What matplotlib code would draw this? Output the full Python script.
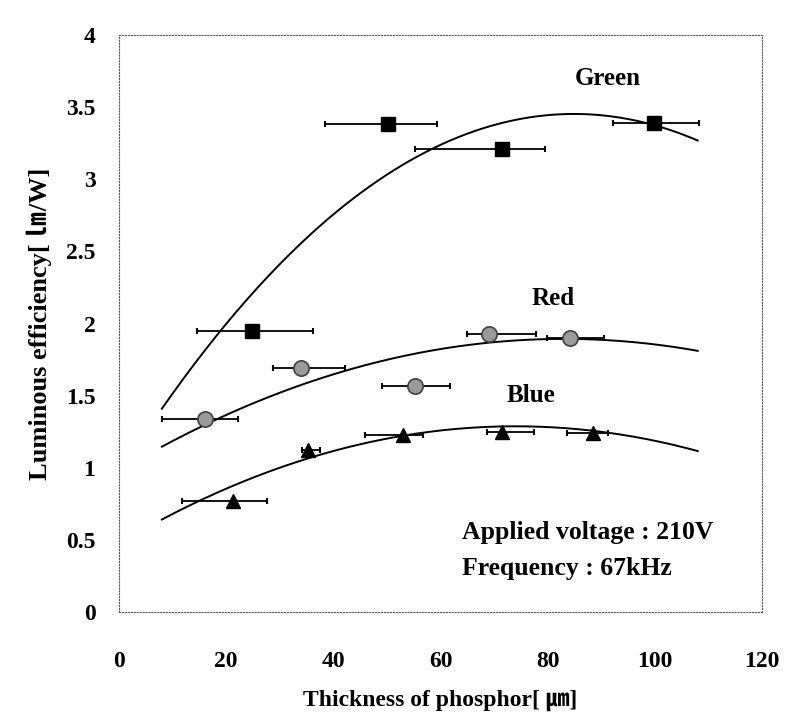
import numpy as np
import matplotlib.pyplot as plt

# thickness [um], efficiency [lm/W], error bar extents (left, right) in um
green_x = [24.8, 50.2, 71.4, 99.9]
green_y = [1.95, 3.38, 3.21, 3.39]
green_lo = [14.6, 38.5, 55.3, 92.1]
green_hi = [36.2, 59.4, 79.5, 108.3]

red_x = [16.1, 34.0, 55.2, 69.0, 84.1]
red_y = [1.34, 1.69, 1.57, 1.93, 1.90]
red_lo = [8.0, 28.8, 49.1, 65.0, 79.9]
red_hi = [22.3, 42.2, 61.7, 77.8, 90.5]

blue_x = [21.2, 35.3, 53.0, 71.4, 88.4]
blue_y = [0.77, 1.12, 1.23, 1.25, 1.24]
blue_lo = [11.7, 34.1, 46.0, 68.7, 83.7]
blue_hi = [27.6, 37.6, 56.8, 77.4, 91.2]

# 2nd order trend lines as drawn in the figure (c2, c1, c0)
green_fit = [-3.455e-4, 0.05867, 0.962]
red_fit = [-1.328e-4, 0.02205, 0.978]
blue_fit = [-1.484e-4, 0.02196, 0.475]
fit_range = (8, 108)

plt.rcParams['font.family'] = ['Liberation Serif', 'Noto Sans CJK JP']
plt.rcParams['font.weight'] = 'bold'
plt.rcParams['axes.labelweight'] = 'bold'

fig = plt.figure(figsize=(7.85, 7.17), dpi=100)
ax = fig.add_axes([119/785, 1-612/717, 643/785, 577/717])

series = [
    (green_x, green_y, green_lo, green_hi, green_fit,
     dict(marker='s', ms=10, mfc='black', mec='black')),
    (red_x, red_y, red_lo, red_hi, red_fit,
     dict(marker='o', ms=11, mfc='#9a9a9a', mec='#404040', mew=1.2)),
    (blue_x, blue_y, blue_lo, blue_hi, blue_fit,
     dict(marker='^', ms=10, mfc='black', mec='black')),
]
xs = np.linspace(fit_range[0], fit_range[1], 200)
for x, y, lo, hi, fit, mk in series:
    x = np.array(x); y = np.array(y)
    xerr = [x - np.array(lo), np.array(hi) - x]
    ax.errorbar(x, y, xerr=xerr, fmt='none', ecolor='black', elinewidth=1.3,
                capsize=2, capthick=1.5, zorder=2)
    ax.plot(x, y, ls='none', zorder=3, **mk)
    ax.plot(xs, np.polyval(fit, xs), color='black', lw=1.4, zorder=2)

ax.set_xlim(0, 120)
ax.set_ylim(0, 4)
ax.set_xticks(range(0, 121, 20))
ax.set_yticks([0, 0.5, 1, 1.5, 2, 2.5, 3, 3.5, 4])
ax.set_yticklabels(['0', '0.5', '1', '1.5', '2', '2.5', '3', '3.5', '4'])
ax.tick_params(length=0, labelsize=17)
ax.tick_params(axis='x', pad=28)
ax.tick_params(axis='y', pad=17)
for s in ax.spines.values():
    s.set_linestyle(':')
    s.set_linewidth(0.8)
    s.set_color('#555555')

ax.text(91.2, 3.70, 'Green', fontsize=18, ha='center', va='center')
ax.text(81.1, 2.17, 'Red', fontsize=18, ha='center', va='center')
ax.text(76.8, 1.50, 'Blue', fontsize=18, ha='center', va='center')
ax.text(64.1, 0.55, 'Applied voltage : 210V', fontsize=18.5, ha='left', va='center')
ax.text(64.1, 0.30, 'Frequency : 67kHz', fontsize=18.5, ha='left', va='center')

ax.set_xlabel('Thickness of phosphor[ ㎛]', fontsize=17, labelpad=13)
ax.set_ylabel('Luminous efficiency[ ㏐/W]', fontsize=19, labelpad=10)

fig.savefig('out.png', dpi=100)
